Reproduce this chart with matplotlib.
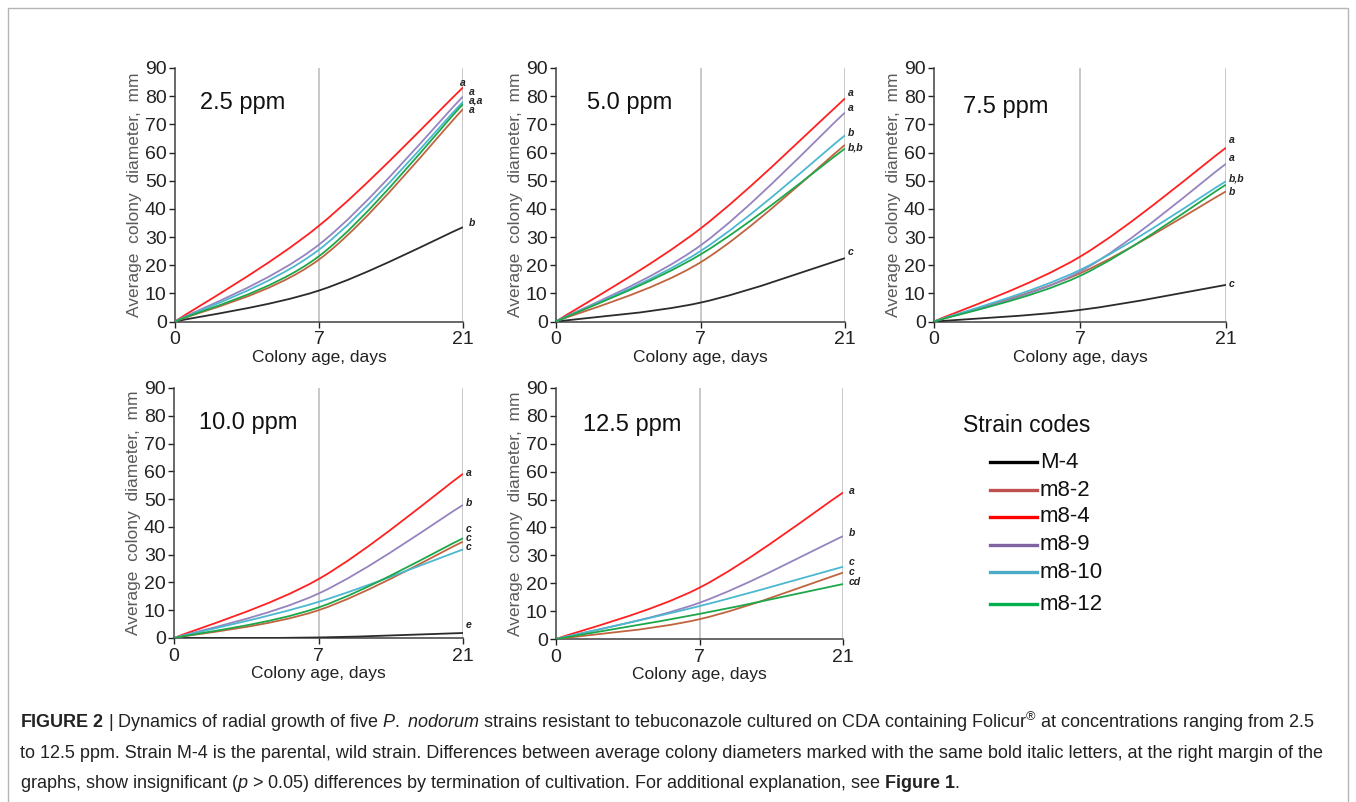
import numpy as np
import matplotlib
matplotlib.use('Agg')
import matplotlib.pyplot as plt
from matplotlib.path import Path
from matplotlib.patches import PathPatch, Rectangle
from matplotlib.lines import Line2D

plt.rcParams['font.family'] = ['Liberation Sans', 'DejaVu Sans']
plt.rcParams['mathtext.fontset'] = 'custom'
plt.rcParams['mathtext.rm'] = 'Liberation Sans'
plt.rcParams['mathtext.it'] = 'Liberation Sans:italic'
plt.rcParams['mathtext.bf'] = 'Liberation Sans:bold'

days = ['0', '7', '21']
strains = ['M-4', 'm8-2', 'm8-4', 'm8-9', 'm8-10', 'm8-12']
concentrations = ['2.5 ppm', '5.0 ppm', '7.5 ppm', '10.0 ppm', '12.5 ppm']

# average colony diameter, mm, at day 0 / 7 / 21 (one list per strain, in strain order)
ppm_2_5 = [[0, 11.0, 33.5], [0, 22.0, 75.4], [0, 34.0, 83.1],
           [0, 27.3, 79.9], [0, 25.5, 78.0], [0, 23.2, 77.2]]
ppm_5_0 = [[0, 6.7, 22.5], [0, 21.0, 62.7], [0, 33.0, 79.2],
           [0, 27.0, 74.2], [0, 25.0, 66.1], [0, 23.8, 61.4]]
ppm_7_5 = [[0, 4.1, 13.0], [0, 17.1, 46.2], [0, 23.0, 61.7],
           [0, 17.7, 56.0], [0, 18.3, 49.8], [0, 16.2, 48.6]]
ppm_10_0 = [[0, 0.2, 1.8], [0, 10.0, 34.7], [0, 21.2, 59.1],
            [0, 16.0, 47.9], [0, 13.0, 31.9], [0, 11.0, 35.9]]
ppm_12_5 = [None, [0, 7.1, 23.8], [0, 18.4, 52.5],
            [0, 13.0, 36.9], [0, 11.8, 25.9], [0, 9.0, 19.7]]
panels = [ppm_2_5, ppm_5_0, ppm_7_5, ppm_10_0, ppm_12_5]

# significance letters at the right margin, top to bottom
letters = [['a', 'a', 'a,a', 'a', 'b'],
           ['a', 'a', 'b', 'b,b', 'c'],
           ['a', 'a', 'b,b', 'b', 'c'],
           ['a', 'b', 'c', 'c', 'c', 'e'],
           ['a', 'b', 'c', 'c', 'cd']]
letter_y = [[84.8, 81.6, 78.4, 75.2, 34.8],
            [81.1, 75.7, 66.8, 61.9, 24.5],
            [64.3, 57.9, 50.9, 45.9, 13.4],
            [59.4, 48.6, 39.2, 36.0, 32.8, 4.6],
            [53.1, 38.0, 27.6, 24.0, 20.4]]
letter_x = [[0.99, 1.02, 1.02, 1.02, 1.02],
            [1.01] * 5, [1.01] * 5, [1.01] * 6, [1.02] * 5]

colors = ['#2b2b2b', '#c0643f', '#ff2020', '#9683c0', '#4bb8d0', '#1ca84a']
legend_colors = ['#000000', '#c0504d', '#ff0000', '#8064a2', '#4bacc6', '#00b050']


def smooth_path(xs, ys):
    # Excel-style smoothed line (Catmull-Rom as cubic Bezier segments)
    p = np.column_stack([xs, ys]).astype(float)
    n = len(p)
    verts = [p[0]]
    codes = [Path.MOVETO]
    for i in range(n - 1):
        prev = p[i - 1] if i > 0 else p[i]
        nxt = p[i + 2] if i + 2 < n else p[i + 1]
        c1 = p[i] + (p[i + 1] - prev) / 6
        c2 = p[i + 1] - (nxt - p[i]) / 6
        verts += [c1, c2, p[i + 1]]
        codes += [Path.CURVE4] * 3
    return Path(verts, codes)


fig = plt.figure(figsize=(13.56, 8.02), dpi=100)
W, H = 1356, 802
boxes = [(175, 68, 288, 253.5), (556, 68, 289, 253.5), (934, 68, 292, 253.5),
         (174, 388, 289, 250), (556, 388, 287, 251)]
title_pos = [(0.087, 0.862), (0.107, 0.862), (0.099, 0.848), (0.087, 0.86), (0.094, 0.852)]

x_pos = np.arange(len(days))
for k, data in enumerate(panels):
    l, t, w, h = boxes[k]
    ax = fig.add_axes([l / W, 1 - (t + h) / H, w / W, h / H])
    for s, vals in enumerate(data):
        if vals is None:
            continue
        ax.add_patch(PathPatch(smooth_path(x_pos, vals), fill=False,
                               edgecolor=colors[s], lw=1.3, zorder=3))
    ax.set_xlim(0, 2)
    ax.set_ylim(0, 90)
    ax.set_xticks(x_pos)
    ax.set_xticklabels(days)
    ax.set_yticks(range(0, 91, 10))
    for xv in x_pos[1:]:
        ax.axvline(xv, color='#bfbfbf', lw=1.2, zorder=1)
    for side in ['top', 'right']:
        ax.spines[side].set_visible(False)
    for side in ['left', 'bottom']:
        ax.spines[side].set_color('#404040')
        ax.spines[side].set_linewidth(1.1)
    ax.tick_params(labelsize=14, colors='#222222', length=4, width=1, pad=2)
    ax.tick_params(axis='x', pad=3)
    ax.set_ylabel('Average  colony  diameter,  mm', fontsize=12.5, color='#5a5a5a', labelpad=2)
    ax.set_xlabel('Colony age, days', fontsize=12.5, color='#222222', labelpad=1)
    ax.text(title_pos[k][0], title_pos[k][1], concentrations[k], transform=ax.transAxes,
            fontsize=17, va='center', ha='left', color='#111111')
    for txt, xf, yv in zip(letters[k], letter_x[k], letter_y[k]):
        ax.text(xf, yv, txt, transform=ax.get_yaxis_transform(), fontsize=7.5,
                fontweight='bold', fontstyle='italic', va='center', ha='left',
                color='#222222', clip_on=False)

# legend
fig.text(963 / W, 1 - 425 / H, 'Strain codes', fontsize=16.5, va='center', ha='left', color='#111111')
leg_y = [462, 490, 517, 545, 572, 604]
for s, name in enumerate(strains):
    yy = 1 - leg_y[s] / H
    fig.add_artist(Line2D([990 / W, 1037 / W], [yy, yy], color=legend_colors[s], lw=2.4,
                          transform=fig.transFigure))
    fig.text(1040 / W, yy, name, fontsize=16, va='center', ha='left', color='#111111')

# outer frame
fig.add_artist(Rectangle((8 / W, -0.02), 1340 / W, 1 - 8 / H + 0.02, fill=False,
                         edgecolor='#b5b5b5', lw=1, transform=fig.transFigure))

caption = [
    r'$\bf{FIGURE\ 2}$ | Dynamics of radial growth of five $\it{P.}$ $\it{nodorum}$ strains resistant to '
    r'tebuconazole cultured on CDA containing Folicur$^{®}$ at concentrations ranging from 2.5',
    'to 12.5 ppm. Strain M-4 is the parental, wild strain. Differences between average colony '
    'diameters marked with the same bold italic letters, at the right margin of the',
    r'graphs, show insignificant ($\it{p}$ > 0.05) differences by termination of cultivation. '
    r'For additional explanation, see $\bf{Figure\ 1}$.',
]
for i, line in enumerate(caption):
    fig.text(20 / W, 1 - (722 + 31 * i) / H, line, fontsize=13, va='center', ha='left',
             color='#222222')

fig.savefig('out.png', dpi=100)
